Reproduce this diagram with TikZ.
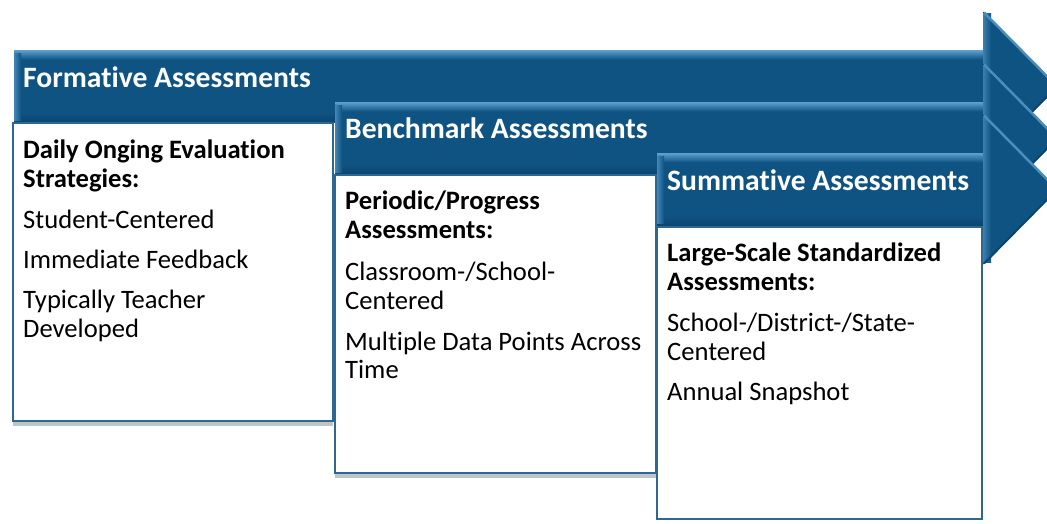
\documentclass[tikz,border=0pt]{standalone}
\usepackage{fontspec}
\setmainfont[Ligatures=NoCommon]{Carlito}
\definecolor{arrowdark}{HTML}{0F5383}
\definecolor{arrowdeep}{HTML}{0B4470}
\definecolor{arrowlight}{HTML}{5A9DCB}
\definecolor{boxline}{HTML}{2C6891}
\definecolor{shadowgray}{HTML}{BFC4C9}
\tikzset{
  hdr/.style={anchor=base west, text=white, font=\fontsize{29.6}{34}\selectfont\bfseries, inner sep=0pt},
  bodyb/.style={anchor=base west, text=black, font=\fontsize{26.6}{30}\selectfont\bfseries, inner sep=0pt},
  bodyt/.style={anchor=base west, text=black, font=\fontsize{26.6}{30}\selectfont, inner sep=0pt},
  infobox/.style={draw=boxline, line width=1.6pt, fill=white},
  boxshadow/.style={fill=shadowgray}
}
\newcommand{\bigarrow}[2]{%
  \fill[arrowdark] (#1,#2-36) -- (983,#2-36) -- (983,#2-75) -- (1058,#2) -- (983,#2+75) -- (983,#2+36) -- (#1,#2+36) -- cycle;
  \shade[top color=arrowlight, bottom color=arrowdark] (#1,#2-36) rectangle (983,#2-27);
  \shade[top color=arrowdark, bottom color=arrowdeep] (#1,#2+26) rectangle (983,#2+36);
  \shade[left color=arrowlight!70!arrowdark, right color=arrowdark] (#1,#2-33) rectangle (#1+7,#2+34);
  \shade[left color=arrowlight!60!arrowdark, right color=arrowdark] (983,#2-73) rectangle (991,#2+73);
  \draw[arrowlight!80!arrowdark, line width=2.5pt] (984,#2-74) -- (1057,#2);
  \draw[arrowdeep, line width=2pt] (1057,#2) -- (984,#2+74);
}
\begin{document}
\begin{tikzpicture}[x=1pt,y=-1pt]
\useasboundingbox (0,0) rectangle (1047,523);
\clip (0,0) rectangle (1047,523);
\fill[white] (0,0) rectangle (1047,523);

% Formative
\bigarrow{14}{86.5}
\fill[boxshadow] (13,420) rectangle (333,426);
\draw[infobox] (13,123) rectangle (333,421);
\node[hdr] (fh) at (23,87) {Formative Assessments};
\node[bodyb] (f1) at (23,158) {Daily Onging Evaluation};
\node[bodyb] (f2) at (23,187) {Strategies:};
\node[bodyt] (f3) at (23,228) {Student-Centered};
\node[bodyt] (f4) at (23,268) {Immediate Feedback};
\node[bodyt] (f5) at (23,308) {Typically Teacher};
\node[bodyt] (f6) at (23,337) {Developed};

% Benchmark
\bigarrow{335}{138.5}
\fill[boxshadow] (335,472) rectangle (656,478);
\draw[infobox] (335,175) rectangle (656,473);
\node[hdr] (bh) at (345,138) {Benchmark Assessments};
\node[bodyb] (b1) at (345,209) {Periodic/Progress};
\node[bodyb] (b2) at (345,238) {Assessments:};
\node[bodyt] (b3) at (345,280) {Classroom-/School-};
\node[bodyt] (b4) at (345,309) {Centered};
\node[bodyt] (b5) at (345,350) {Multiple Data Points Across};
\node[bodyt] (b6) at (345,378) {Time};

% Summative
\bigarrow{657}{189.5}
\draw[infobox] (657,227) rectangle (982,519);
\node[hdr] (sh) at (667,190) {Summative Assessments};
\node[bodyb] (s1) at (667,261) {Large-Scale Standardized};
\node[bodyb] (s2) at (667,290) {Assessments:};
\node[bodyt] (s3) at (667,331) {School-/District-/State-};
\node[bodyt] (s4) at (667,360) {Centered};
\node[bodyt] (s5) at (667,400) {Annual Snapshot};
\end{tikzpicture}
\end{document}
